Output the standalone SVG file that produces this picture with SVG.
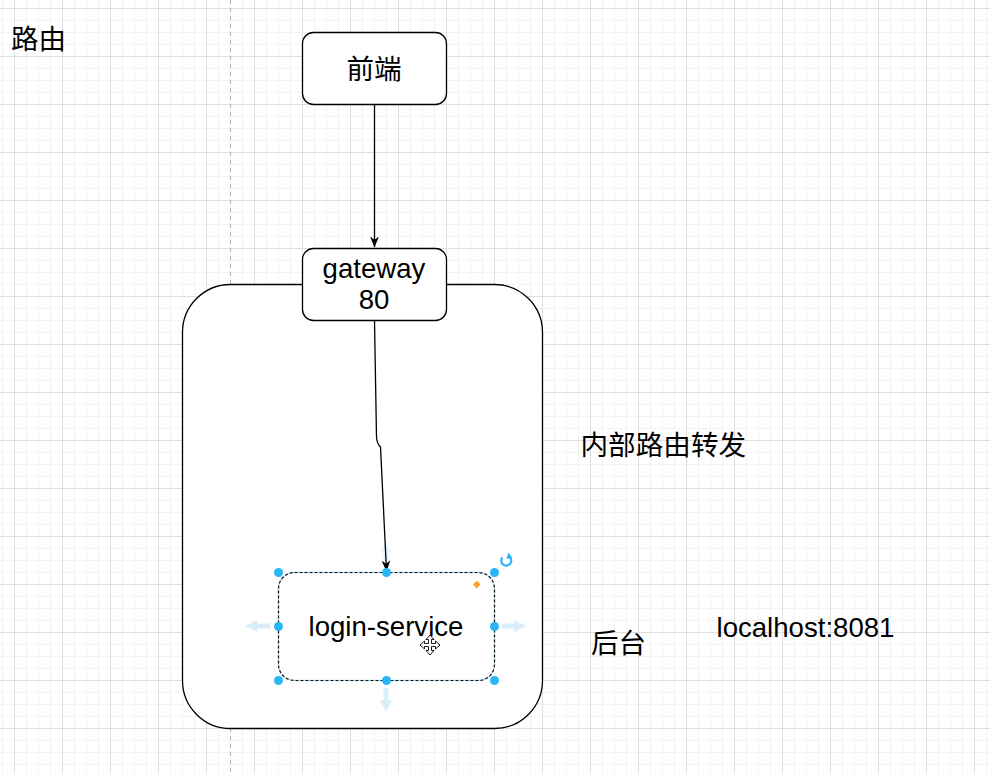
<svg xmlns="http://www.w3.org/2000/svg" width="990" height="773" viewBox="0 0 990 773">
<defs>
<pattern id="grid" patternUnits="userSpaceOnUse" x="14" y="8" width="48" height="48">
<path d="M12.5,0 V48 M24.5,0 V48 M36.5,0 V48 M0,12.5 H48 M0,24.5 H48 M0,36.5 H48" stroke="#f3f3f3" stroke-width="1" fill="none"/>
<path d="M0.5,0 V48 M0,0.5 H48" stroke="#dedede" stroke-width="1" fill="none"/>
</pattern>
<marker id="arr" viewBox="0 0 10 10" refX="9.5" refY="5" markerWidth="11" markerHeight="11" markerUnits="userSpaceOnUse" orient="auto">
<path d="M0,1 L10,5 L0,9 L3,5 z" fill="#000"/>
</marker>
</defs>
<style>
.box{fill:#fff;stroke:#000;stroke-width:1.3}
.lbl{font-family:"Liberation Sans",Arial,"Noto Sans CJK SC",sans-serif;font-size:27.6px;fill:#000}
.cjk{font-family:"Noto Sans CJK SC","Liberation Sans",sans-serif;font-size:27.6px;fill:#000}
.edge{fill:none;stroke:#000;stroke-width:1.3}
.handle{fill:#29b6f2}
.hover{fill:#d9eefb}
</style>
<rect x="0" y="0" width="990" height="773" fill="#ffffff"/>
<rect x="0" y="0" width="990" height="773" fill="url(#grid)"/>
<line x1="230.5" y1="0" x2="230.5" y2="773" stroke="#b0b0b0" stroke-width="1" stroke-dasharray="4,4"/>

<g id="label-luyou"><text class="cjk" x="11" y="49">路由</text></g>

<g id="container"><rect class="box" x="182.5" y="284.5" width="360" height="444" rx="48" ry="48"/></g>

<g id="frontend">
<rect class="box" x="302.5" y="32.5" width="144" height="72" rx="11" ry="11"/>
<text class="cjk" x="374" y="78.5" text-anchor="middle">前端</text>
</g>

<g id="gateway">
<rect class="box" x="302.5" y="248.5" width="144" height="72" rx="11" ry="11"/>
<text class="lbl" x="374" y="278" text-anchor="middle">gateway</text>
<text class="lbl" x="374" y="309" text-anchor="middle">80</text>
</g>

<g id="hover-arrows">
<polygon class="hover" points="386,543 392,552 388.5,552 388.5,563 383.5,563 383.5,552 380,552" opacity="0.6"/>
<polygon class="hover" points="245,626 257,620 257,623.5 270,623.5 270,628.5 257,628.5 257,632"/>
<polygon class="hover" points="526,626 514,620 514,623.5 502,623.5 502,628.5 514,628.5 514,632"/>
<polygon class="hover" points="386,712 380,700 383.5,700 383.5,688 388.5,688 388.5,700 392,700"/>
</g>

<g id="connectors">
<path class="edge" d="M374.5,104.5 V247" marker-end="url(#arr)"/>
<path class="edge" d="M374.5,320.5 L376.5,437 Q377,444 380.5,447 L386.5,571" marker-end="url(#arr)"/>
</g>

<g id="login-service">
<rect x="278.5" y="572.5" width="216" height="108" rx="16" ry="16" fill="#fff" stroke="#bfe4f7" stroke-width="1.3"/>
<rect x="278.5" y="572.5" width="216" height="108" rx="16" ry="16" fill="none" stroke="#111" stroke-width="1.2" stroke-dasharray="3,2"/>
<text class="lbl" x="386" y="636" text-anchor="middle">login-service</text>
</g>

<g id="selection-handles">
<circle class="handle" cx="278.5" cy="572.5" r="4.5"/>
<circle class="handle" cx="386.5" cy="572.5" r="4.5"/>
<circle class="handle" cx="494.5" cy="572.5" r="4.5"/>
<circle class="handle" cx="278.5" cy="626.5" r="4.5"/>
<circle class="handle" cx="494.5" cy="626.5" r="4.5"/>
<circle class="handle" cx="278.5" cy="680.5" r="4.5"/>
<circle class="handle" cx="386.5" cy="680.5" r="4.5"/>
<circle class="handle" cx="494.5" cy="680.5" r="4.5"/>
<polygon points="476.7,580.8 480.5,584.6 476.7,588.4 472.9,584.6" fill="#f5a623"/>
<path d="M502.4,557.4 A5,5 0 1 0 509.2,556.6" fill="none" stroke="#29b6f2" stroke-width="2.2"/>
<polygon points="508.4,552.6 512.4,557.8 506.4,559" fill="#29b6f2"/>
</g>

<g id="move-cursor">
<polygon points="430,635 434,639.5 431.5,639.5 431.5,643.5 435.5,643.5 435.5,641 440,645 435.5,649 435.5,646.5 431.5,646.5 431.5,650.5 434,650.5 430,655 426,650.5 428.5,650.5 428.5,646.5 424.5,646.5 424.5,649 420,645 424.5,641 424.5,643.5 428.5,643.5 428.5,639.5 426,639.5" fill="#fff" stroke="#000" stroke-width="0.9" stroke-linejoin="round"/>
</g>

<g id="label-neibu"><text class="cjk" x="580.5" y="455">内部路由转发</text></g>
<g id="label-houtai"><text class="cjk" x="591" y="652.5">后台</text></g>
<g id="label-localhost"><text class="lbl" x="716.5" y="636.5">localhost:8081</text></g>
</svg>
